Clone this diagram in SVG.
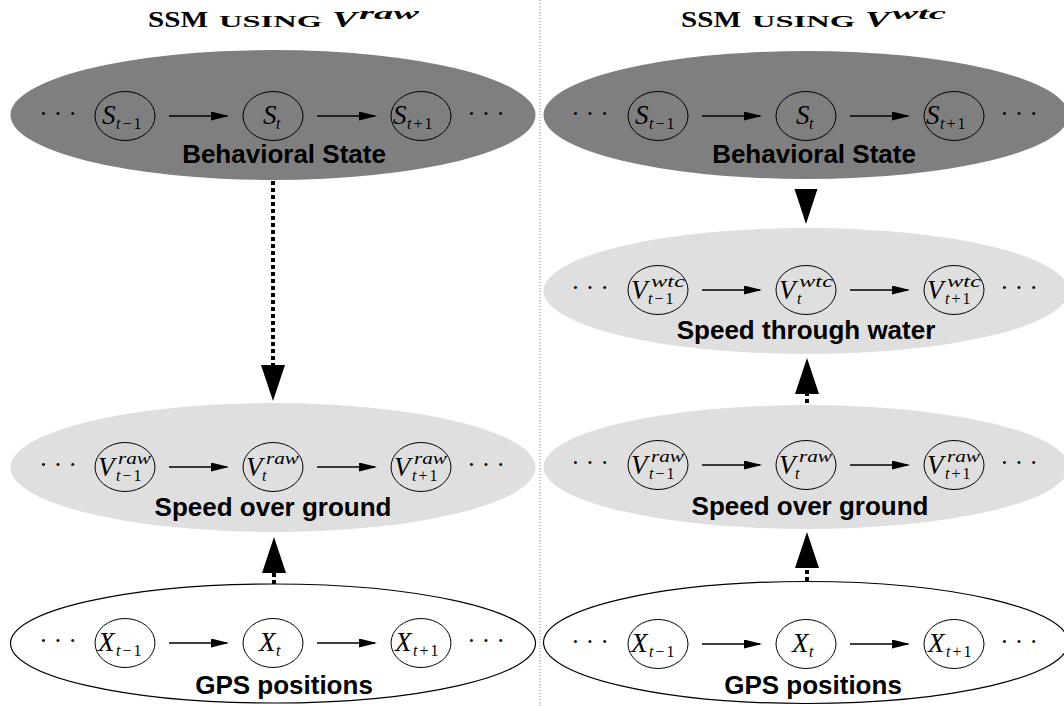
<svg xmlns="http://www.w3.org/2000/svg" width="1064" height="706" viewBox="0 0 1064 706">
<defs>
<style>
.ttl{font-family:"Liberation Serif","Times New Roman",serif;font-weight:bold;fill:#000}
.it{font-style:italic}
.lab{font-family:"Liberation Sans",Arial,sans-serif;font-weight:bold;font-size:26px;text-anchor:middle;fill:#000}
.mi{font-family:"Liberation Serif","Times New Roman",serif;font-style:italic;fill:#000}
.L{font-size:27px}
.s{font-size:16px}
.n{font-style:normal}
.dots{font-family:"Liberation Serif","Times New Roman",serif;font-size:25px;text-anchor:middle;fill:#000}
.dark{fill:#7f7f7f}
.light{fill:#dfdfdf}
.white{fill:#fff;stroke:#000;stroke-width:1.2}
.node{fill:none;stroke:#000;stroke-width:1}
.h{stroke:#000;stroke-width:1.5;fill:none;marker-end:url(#ah)}
.v{stroke:#000;stroke-width:4;stroke-dasharray:4 3;fill:none;marker-end:url(#big)}
.div{stroke:#8a8a8a;stroke-width:1;stroke-dasharray:1.2 1.8;fill:none}
</style>
<marker id="ah" markerWidth="18" markerHeight="9" refX="16" refY="4.5" orient="auto" markerUnits="userSpaceOnUse"><path d="M0,0 L18,4.5 L0,9 z" fill="#000"/></marker>
<marker id="big" markerWidth="36" markerHeight="24" refX="0" refY="12" orient="auto" markerUnits="userSpaceOnUse"><path d="M0,0 L36,12 L0,24 z" fill="#000"/></marker>
</defs>
<rect width="1064" height="706" fill="#fff"/>
<line class="div" x1="540" y1="0" x2="540" y2="706"/>

<g id="title-left">
<text class="ttl" x="148" y="27" font-size="23" textLength="60" lengthAdjust="spacingAndGlyphs">SSM</text>
<text class="ttl" x="219" y="27" font-size="16.5" textLength="103" lengthAdjust="spacingAndGlyphs">USING</text>
<text class="ttl it" x="332" y="27" font-size="24" textLength="25" lengthAdjust="spacingAndGlyphs">V</text>
<text class="ttl it" x="359" y="19" font-size="17" textLength="60" lengthAdjust="spacingAndGlyphs">raw</text>
</g>
<g id="title-right">
<text class="ttl" x="681" y="27" font-size="23" textLength="60" lengthAdjust="spacingAndGlyphs">SSM</text>
<text class="ttl" x="752" y="27" font-size="16.5" textLength="103" lengthAdjust="spacingAndGlyphs">USING</text>
<text class="ttl it" x="865" y="27" font-size="24" textLength="25" lengthAdjust="spacingAndGlyphs">V</text>
<text class="ttl it" x="892" y="19" font-size="17" textLength="54" lengthAdjust="spacingAndGlyphs">wtc</text>
</g>

<!-- Left: Behavioral State -->
<g id="left-state" transform="translate(273,116)">
<ellipse class="dark" cx="0" cy="-1" rx="262.5" ry="65"/>
<text class="dots" x="-215" y="6">· · ·</text>
<text class="dots" x="213" y="6">· · ·</text>
<g id="left-s-prev" transform="translate(-148,0)"><ellipse class="node" rx="30" ry="24.5"/>
<text class="mi L" x="-23" y="8">S</text><text class="mi s" x="-9" y="13">t<tspan class="n" dx="2">−</tspan><tspan class="n" dx="2">1</tspan></text></g>
<g id="left-s-t"><ellipse class="node" rx="30" ry="24.5"/>
<text class="mi L" x="-10" y="8">S</text><text class="mi s" x="3" y="13">t</text></g>
<g id="left-s-next" transform="translate(148,0)"><ellipse class="node" rx="30" ry="24.5"/>
<text class="mi L" x="-28" y="8">S</text><text class="mi s" x="-14" y="13">t<tspan class="n" dx="2">+</tspan><tspan class="n" dx="2">1</tspan></text></g>
<text class="lab" x="11" y="47">Behavioral State</text>
</g>

<!-- Left: Speed over ground -->
<g id="left-sog" transform="translate(273,467)">
<ellipse class="light" cx="0" cy="0.5" rx="262.5" ry="64.5"/>
<text class="dots" x="-215" y="6">· · ·</text>
<text class="dots" x="213" y="6">· · ·</text>
<g id="left-v-prev" transform="translate(-148,0)"><ellipse class="node" rx="30" ry="24.5"/>
<text class="mi L" x="-27" y="9">V</text><text class="mi s" x="-7" y="-3" textLength="33" lengthAdjust="spacingAndGlyphs">raw</text><text class="mi s" x="-9" y="14">t<tspan class="n" dx="2">−</tspan><tspan class="n" dx="2">1</tspan></text></g>
<g id="left-v-t"><ellipse class="node" rx="30" ry="24.5"/>
<text class="mi L" x="-27" y="9">V</text><text class="mi s" x="-7" y="-3" textLength="33" lengthAdjust="spacingAndGlyphs">raw</text><text class="mi s" x="-11" y="14">t</text></g>
<g id="left-v-next" transform="translate(148,0)"><ellipse class="node" rx="30" ry="24.5"/>
<text class="mi L" x="-27" y="9">V</text><text class="mi s" x="-7" y="-3" textLength="33" lengthAdjust="spacingAndGlyphs">raw</text><text class="mi s" x="-9" y="14">t<tspan class="n" dx="2">+</tspan><tspan class="n" dx="2">1</tspan></text></g>
<text class="lab" x="0" y="49">Speed over ground</text>
</g>

<!-- Left: GPS positions -->
<g id="left-gps" transform="translate(273,643)">
<ellipse class="white" cx="0" cy="0.5" rx="262.5" ry="59.5"/>
<text class="dots" x="-215" y="6">· · ·</text>
<text class="dots" x="213" y="6">· · ·</text>
<g id="left-x-prev" transform="translate(-148,0)"><ellipse class="node" rx="30" ry="24.5"/>
<text class="mi L" x="-27" y="8">X</text><text class="mi s" x="-9" y="13">t<tspan class="n" dx="2">−</tspan><tspan class="n" dx="2">1</tspan></text></g>
<g id="left-x-t"><ellipse class="node" rx="30" ry="24.5"/>
<text class="mi L" x="-14" y="8">X</text><text class="mi s" x="3" y="13">t</text></g>
<g id="left-x-next" transform="translate(148,0)"><ellipse class="node" rx="30" ry="24.5"/>
<text class="mi L" x="-26" y="8">X</text><text class="mi s" x="-8" y="13">t<tspan class="n" dx="2">+</tspan><tspan class="n" dx="2">1</tspan></text></g>
<text class="lab" x="11" y="51">GPS positions</text>
</g>

<!-- Right: Behavioral State -->
<g id="right-state" transform="translate(806,116)">
<ellipse class="dark" cx="0" cy="-1" rx="262.5" ry="64"/>
<text class="dots" x="-216" y="6">· · ·</text>
<text class="dots" x="213" y="6">· · ·</text>
<g id="right-s-prev" transform="translate(-148,0)"><ellipse class="node" rx="30" ry="24.5"/>
<text class="mi L" x="-23" y="8">S</text><text class="mi s" x="-9" y="13">t<tspan class="n" dx="2">−</tspan><tspan class="n" dx="2">1</tspan></text></g>
<g id="right-s-t"><ellipse class="node" rx="30" ry="24.5"/>
<text class="mi L" x="-10" y="8">S</text><text class="mi s" x="3" y="13">t</text></g>
<g id="right-s-next" transform="translate(148,0)"><ellipse class="node" rx="30" ry="24.5"/>
<text class="mi L" x="-28" y="8">S</text><text class="mi s" x="-14" y="13">t<tspan class="n" dx="2">+</tspan><tspan class="n" dx="2">1</tspan></text></g>
<text class="lab" x="8" y="47">Behavioral State</text>
</g>

<!-- Right: Speed through water -->
<g id="right-stw" transform="translate(806,290)">
<ellipse class="light" cx="0" cy="1" rx="262.5" ry="63"/>
<text class="dots" x="-216" y="6">· · ·</text>
<text class="dots" x="213" y="6">· · ·</text>
<g id="right-w-prev" transform="translate(-148,0)"><ellipse class="node" rx="30" ry="24.5"/>
<text class="mi L" x="-27" y="9">V</text><text class="mi s" x="-7" y="-3" textLength="34" lengthAdjust="spacingAndGlyphs">wtc</text><text class="mi s" x="-10" y="14">t<tspan class="n" dx="2">−</tspan><tspan class="n" dx="2">1</tspan></text></g>
<g id="right-w-t"><ellipse class="node" rx="30" ry="24.5"/>
<text class="mi L" x="-27" y="9">V</text><text class="mi s" x="-7" y="-3" textLength="34" lengthAdjust="spacingAndGlyphs">wtc</text><text class="mi s" x="-9" y="14">t</text></g>
<g id="right-w-next" transform="translate(148,0)"><ellipse class="node" rx="30" ry="24.5"/>
<text class="mi L" x="-27" y="9">V</text><text class="mi s" x="-7" y="-3" textLength="34" lengthAdjust="spacingAndGlyphs">wtc</text><text class="mi s" x="-9" y="14">t<tspan class="n" dx="2">+</tspan><tspan class="n" dx="2">1</tspan></text></g>
<text class="lab" x="0" y="49">Speed through water</text>
</g>

<!-- Right: Speed over ground -->
<g id="right-sog" transform="translate(806,465)">
<ellipse class="light" cx="0" cy="2" rx="262.5" ry="62"/>
<text class="dots" x="-216" y="6">· · ·</text>
<text class="dots" x="213" y="6">· · ·</text>
<g id="right-v-prev" transform="translate(-148,0)"><ellipse class="node" rx="30" ry="24.5"/>
<text class="mi L" x="-27" y="9">V</text><text class="mi s" x="-7" y="-3" textLength="33" lengthAdjust="spacingAndGlyphs">raw</text><text class="mi s" x="-9" y="14">t<tspan class="n" dx="2">−</tspan><tspan class="n" dx="2">1</tspan></text></g>
<g id="right-v-t"><ellipse class="node" rx="30" ry="24.5"/>
<text class="mi L" x="-27" y="9">V</text><text class="mi s" x="-7" y="-3" textLength="33" lengthAdjust="spacingAndGlyphs">raw</text><text class="mi s" x="-11" y="14">t</text></g>
<g id="right-v-next" transform="translate(148,0)"><ellipse class="node" rx="30" ry="24.5"/>
<text class="mi L" x="-27" y="9">V</text><text class="mi s" x="-7" y="-3" textLength="33" lengthAdjust="spacingAndGlyphs">raw</text><text class="mi s" x="-9" y="14">t<tspan class="n" dx="2">+</tspan><tspan class="n" dx="2">1</tspan></text></g>
<text class="lab" x="4" y="50">Speed over ground</text>
</g>

<!-- Right: GPS positions -->
<g id="right-gps" transform="translate(806,644)">
<ellipse class="white" cx="0" cy="-1.5" rx="262.5" ry="61"/>
<text class="dots" x="-216" y="6">· · ·</text>
<text class="dots" x="213" y="6">· · ·</text>
<g id="right-x-prev" transform="translate(-148,0)"><ellipse class="node" rx="30" ry="24.5"/>
<text class="mi L" x="-27" y="8">X</text><text class="mi s" x="-9" y="13">t<tspan class="n" dx="2">−</tspan><tspan class="n" dx="2">1</tspan></text></g>
<g id="right-x-t"><ellipse class="node" rx="30" ry="24.5"/>
<text class="mi L" x="-14" y="8">X</text><text class="mi s" x="3" y="13">t</text></g>
<g id="right-x-next" transform="translate(148,0)"><ellipse class="node" rx="30" ry="24.5"/>
<text class="mi L" x="-26" y="8">X</text><text class="mi s" x="-8" y="13">t<tspan class="n" dx="2">+</tspan><tspan class="n" dx="2">1</tspan></text></g>
<text class="lab" x="7" y="50">GPS positions</text>
</g>

<g id="connectors">
<path class="h" d="M169,116 H227"/><path class="h" d="M317,116 H375"/>
<path class="h" d="M169,467 H227"/><path class="h" d="M317,467 H375"/>
<path class="h" d="M169,643 H227"/><path class="h" d="M317,643 H375"/>
<path class="h" d="M702,116 H760"/><path class="h" d="M850,116 H908"/>
<path class="h" d="M702,290 H760"/><path class="h" d="M850,290 H908"/>
<path class="h" d="M702,465 H760"/><path class="h" d="M850,465 H908"/>
<path class="h" d="M702,644 H760"/><path class="h" d="M850,644 H908"/>
<path class="v" d="M273,181 V365"/>
<path class="v" d="M274,584 V573"/>
<polygon points="794.5,189 817.5,189 806,224" fill="#000"/>
<path class="v" d="M807,403 V394"/>
<path class="v" d="M807,581 V568"/>
</g>
</svg>
